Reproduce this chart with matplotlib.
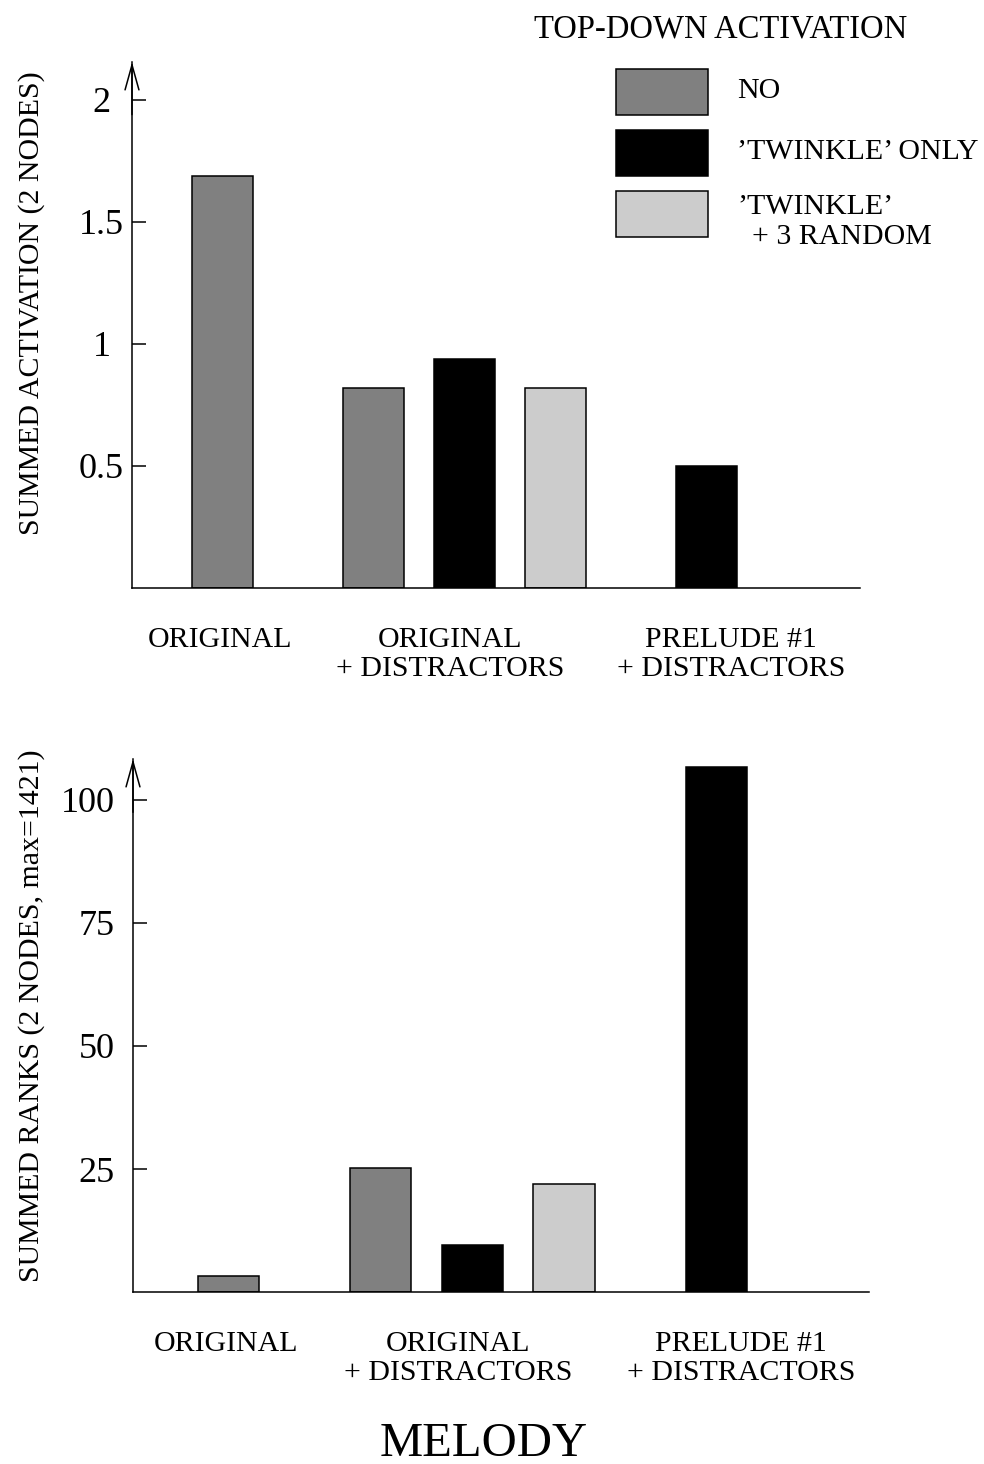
import numpy as np
import matplotlib
matplotlib.use('Agg')
import matplotlib.pyplot as plt
from matplotlib.patches import Rectangle

plt.rcParams['font.family'] = ['Liberation Serif', 'DejaVu Serif']

# Data
groups = ['ORIGINAL', 'ORIGINAL\n+ DISTRACTORS', 'PRELUDE #1\n+ DISTRACTORS']
conditions = ['NO', '\u2019TWINKLE\u2019 ONLY', '\u2019TWINKLE\u2019\n  + 3 RANDOM']
colors = ['#808080', '#000000', '#cccccc']

act_no = [1.69, 0.82, np.nan]
act_twinkle = [np.nan, 0.94, 0.50]
act_random = [np.nan, 0.82, np.nan]

rank_no = [3.3, 25.2, np.nan]
rank_twinkle = [np.nan, 9.5, 106.7]
rank_random = [np.nan, 22.0, np.nan]

W, H = 984, 1464
fig = plt.figure(figsize=(W / 100, H / 100), dpi=100)


def px_rect(left, top, right, bottom):
    return [left / W, 1 - bottom / H, (right - left) / W, (bottom - top) / H]


def draw_panel(ax, series, yticks, yticklabels, ymax, xlim):
    step, width = 0.376, 0.252
    for g in range(len(groups)):
        present = [k for k, s in enumerate(series) if not np.isnan(s[g])]
        n = len(present)
        for i, k in enumerate(present):
            x = g + (i - (n - 1) / 2) * step
            ax.bar(x, series[k][g], width=width, color=colors[k],
                   edgecolor='black', linewidth=1.1, zorder=2)
    ax.set_xlim(*xlim)
    ax.set_ylim(0, ymax)
    # group names sit a little right of the bar groups
    ax.set_xticks([-0.01, 0.94, 2.1])
    ax.set_xticklabels(groups, fontsize=21.5, linespacing=1.15)
    ax.tick_params(axis='x', length=0, pad=28)
    ax.set_yticks(yticks)
    ax.set_yticklabels(yticklabels, fontsize=26)
    ax.tick_params(axis='y', direction='in', length=10, width=1.1, pad=13)
    for side in ['top', 'right']:
        ax.spines[side].set_visible(False)
    for side in ['left', 'bottom']:
        ax.spines[side].set_linewidth(1.1)
    ax.annotate('', xy=(0, 1), xytext=(0, 0.9), xycoords='axes fraction',
                arrowprops=dict(arrowstyle='->,head_length=1.8,head_width=0.5',
                                lw=1.1, color='black', shrinkA=0, shrinkB=0))


ax1 = fig.add_axes(px_rect(132, 62, 860, 588))
draw_panel(ax1, [act_no, act_twinkle, act_random],
           [0.5, 1, 1.5, 2], ['0.5', '1', '1.5', '2'],
           526 / 244, (-0.374, 2.634))
# activation tick labels are centred in their column
ax1.tick_params(axis='y', pad=22)
for t in ax1.get_yticklabels():
    t.set_ha('center')

ax2 = fig.add_axes(px_rect(133, 759, 869, 1292))
draw_panel(ax2, [rank_no, rank_twinkle, rank_random],
           [25, 50, 75, 100], ['25', '50', '75', '100'],
           533 / 4.92, (-0.391, 2.625))

# y-axis titles
fig.text(32 / W, 1 - 303 / H, 'SUMMED ACTIVATION (2 NODES)', rotation=90,
         ha='center', va='center', fontsize=21.5)
fig.text(32 / W, 1 - 1016 / H, 'SUMMED RANKS (2 NODES, max=1421)', rotation=90,
         ha='center', va='center', fontsize=21.5)

# legend
fig.text(721 / W, 1 - 29 / H, 'TOP-DOWN ACTIVATION', ha='center', va='center',
         fontsize=23.5)
box_tops = [69, 130, 191]
text_y = [91, 152, 222]
for k in range(3):
    fig.patches.append(Rectangle((616 / W, 1 - (box_tops[k] + 46) / H), 92 / W, 46 / H,
                                 transform=fig.transFigure, facecolor=colors[k],
                                 edgecolor='black', linewidth=1.1))
    fig.text(737 / W, 1 - text_y[k] / H, conditions[k], ha='left', va='center',
             fontsize=21.5, linespacing=1.15)

fig.text(484 / W, 1 - 1444 / H, 'MELODY', ha='center', va='center', fontsize=35)

fig.savefig('out.png', dpi=100)
